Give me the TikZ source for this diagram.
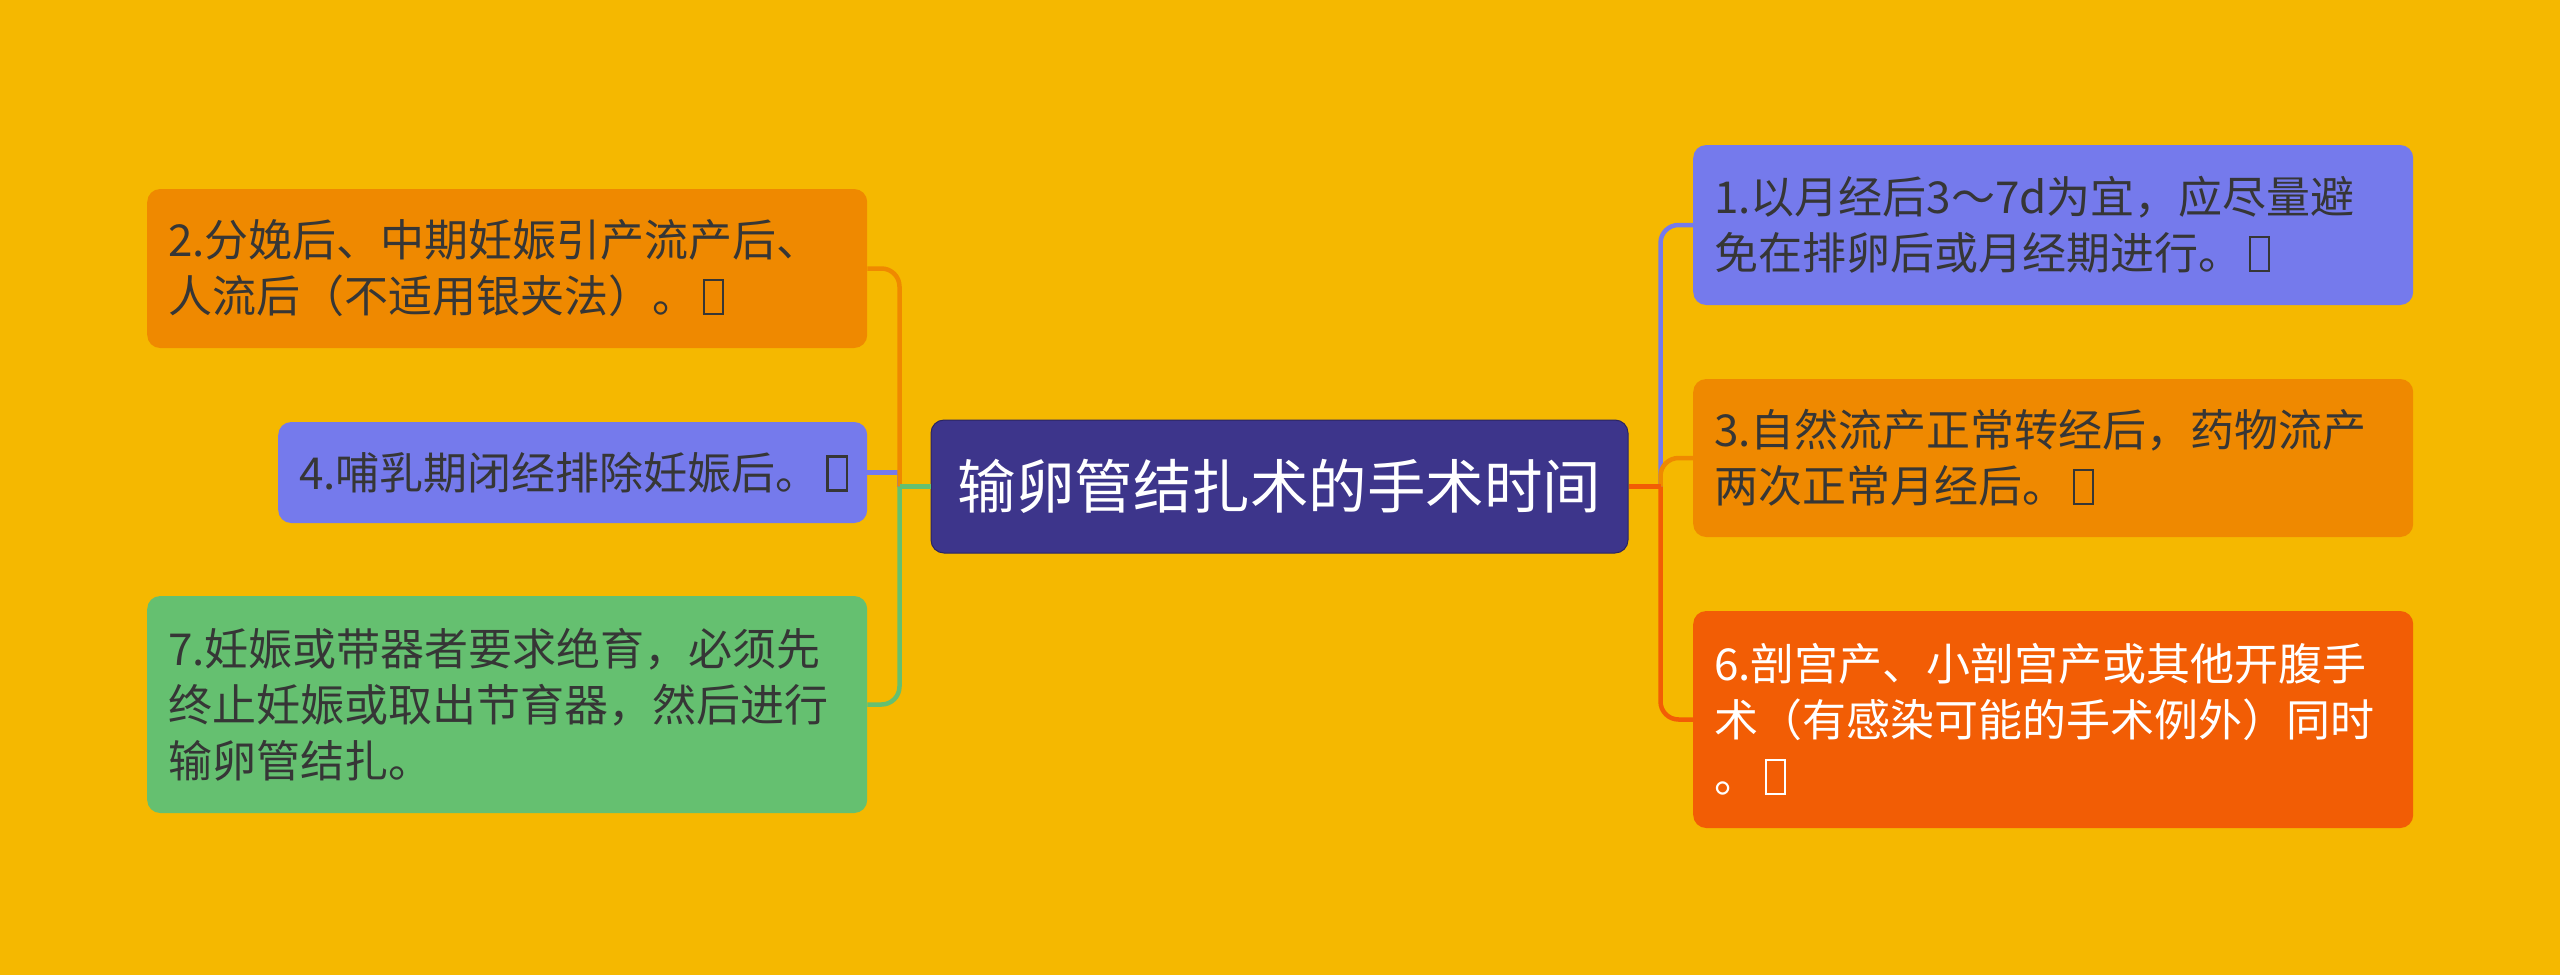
\documentclass[tikz,border=0pt]{standalone}
\usepackage{fontspec}
\setmainfont{Noto Sans CJK SC}
\definecolor{bgc}{HTML}{F5B800}
\definecolor{orc}{HTML}{EF8900}
\definecolor{blc}{HTML}{757AEC}
\definecolor{grc}{HTML}{65C070}
\definecolor{cec}{HTML}{3D358B}
\definecolor{rdc}{HTML}{F25D05}
\definecolor{txc}{HTML}{363636}
\newcommand\tofu{\kern0.15em{\fboxsep=0pt\fboxrule=0.055em\fbox{\rule{0pt}{0.72em}\rule{0.38em}{0pt}}}}
\tikzset{
  leaf/.style={rounded corners=13, inner xsep=21, inner ysep=0, align=left, text=txc,
    font=\fontsize{44}{56}\selectfont},
  conn/.style={line width=4.5},
  bendline/.style={line width=4.5, rounded corners=18},
}
\begin{document}
\begin{tikzpicture}[x=1pt,y=-1pt]
\useasboundingbox (0,0) rectangle (2560,975);
\fill[bgc] (0,0) rectangle (2560,975);
% center
\node[fill=cec, draw=cec!70!black, line width=1, rounded corners=13, minimum width=697, minimum height=133,
  text=white, font=\fontsize{58.5}{66}\selectfont, inner sep=0] (c) at (1279.5,486.5) {输卵管结扎术的手术时间};
% left
\node[leaf, fill=orc, anchor=west, text width=678, minimum height=159] (n2) at (147,268.5)
  {2.分娩后、中期妊娠引产流产后、\\人流后（不适用银夹法）。\tofu};
\node[leaf, fill=blc, anchor=west, text width=547, minimum height=101] (n4) at (278,472.5)
  {4.哺乳期闭经排除妊娠后。\tofu};
\node[leaf, fill=grc, anchor=west, text width=678, minimum height=217] (n7) at (147,704.5)
  {7.妊娠或带器者要求绝育，必须先\\终止妊娠或取出节育器，然后进行\\输卵管结扎。};
% right
\node[leaf, fill=blc, anchor=west, text width=678, minimum height=160] (n1) at (1693,225)
  {1.以月经后3～7d为宜，应尽量避\\免在排卵后或月经期进行。\tofu};
\node[leaf, fill=orc, anchor=west, text width=678, minimum height=158] (n3) at (1693,458)
  {3.自然流产正常转经后，药物流产\\两次正常月经后。\tofu};
\node[leaf, fill=rdc, anchor=west, text width=678, minimum height=217, text=white] (n6) at (1693,719.5)
  {6.剖宫产、小剖宫产或其他开腹手\\术（有感染可能的手术例外）同时\\。\tofu};
% branch points
\coordinate (L) at ([xshift=-31]c.west);
\coordinate (R) at ([xshift=32]c.east);
% connectors
\draw[conn, blc] (L) |- (n4.east);
\draw[bendline, orc] (L) |- (n2.east);
\draw[bendline, grc] (L) |- (n7.east);
\draw[conn, grc] (c.west) -- (L);
\draw[bendline, blc] (R) |- (n1.west);
\draw[bendline, orc] (R) |- (n3.west);
\draw[bendline, rdc] (R) |- (n6.west);
\draw[conn, rdc] (c.east) -- (R);
\end{tikzpicture}
\end{document}
